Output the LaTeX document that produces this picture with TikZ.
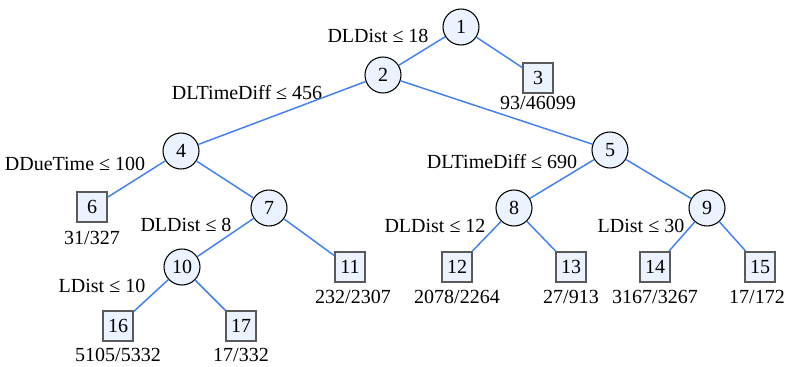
\documentclass[tikz,border=0pt]{standalone}
\usepackage{fontspec}
\setmainfont{Liberation Serif}
\usetikzlibrary{positioning}
\definecolor{edgeblue}{RGB}{66,128,240}
\definecolor{nodefill}{RGB}{234,243,255}
\definecolor{leafgray}{RGB}{90,90,90}

\begin{document}
\begin{tikzpicture}[x=0.75pt, y=-0.75pt, every node/.style={font=\rmfamily\fontsize{15}{17}\selectfont},
  split/.style={circle, draw=black, line width=0.8pt, fill=nodefill, minimum size=27pt, inner sep=0pt},
  leaf/.style={rectangle, draw=leafgray, line width=1.1pt, fill=nodefill, minimum size=22.5pt, inner sep=0pt},
  branch/.style={draw=edgeblue, line width=1.1pt}]
\useasboundingbox (0,0) rectangle (790,367);
% split nodes
\node[split] (n1) at (461,27) {1};
\node[split] (n2) at (383,75) {2};
\node[split] (n4) at (181,151) {4};
\node[split] (n5) at (610,150) {5};
\node[split] (n7) at (269,208) {7};
\node[split] (n8) at (514,208) {8};
\node[split] (n9) at (707,208) {9};
\node[split] (n10) at (182,267) {10};
% leaves
\node[leaf] (n3) at (538,78) {3};
\node[leaf] (n6) at (92,207) {6};
\node[leaf] (n11) at (350,267) {11};
\node[leaf] (n12) at (457,267) {12};
\node[leaf] (n13) at (571,267) {13};
\node[leaf] (n14) at (655,267) {14};
\node[leaf] (n15) at (760,267) {15};
\node[leaf] (n16) at (118,326) {16};
\node[leaf] (n17) at (241,326) {17};
% split rules
\node (r1) at (378,36) {DLDist ≤ 18};
\node (r2) at (247,93) {DLTimeDiff ≤ 456};
\node (r4) at (75,164) {DDueTime ≤ 100};
\node (r5) at (502,162) {DLTimeDiff ≤ 690};
\node (r7) at (186,225) {DLDist ≤ 8};
\node (r8) at (435,226) {DLDist ≤ 12};
\node (r9) at (641,226) {LDist ≤ 30};
\node (r10) at (102,286) {LDist ≤ 10};
% leaf counts
\node (c3) at (538,103) {93/46099};
\node (c6) at (92,238) {31/327};
\node (c11) at (353,297) {232/2307};
\node (c12) at (457,297) {2078/2264};
\node (c13) at (571,297) {27/913};
\node (c14) at (655,297) {3167/3267};
\node (c15) at (757,297) {17/172};
\node (c16) at (118,355) {5105/5332};
\node (c17) at (241,355) {17/332};
\foreach \a/\b in {n1/n2, n1/n3, n2/n4, n2/n5, n4/n6, n4/n7, n7/n10, n7/n11,
  n10/n16, n10/n17, n5/n8, n5/n9, n8/n12, n8/n13, n9/n14, n9/n15}
  \draw[branch] (\a) -- (\b);
\end{tikzpicture}
\end{document}
